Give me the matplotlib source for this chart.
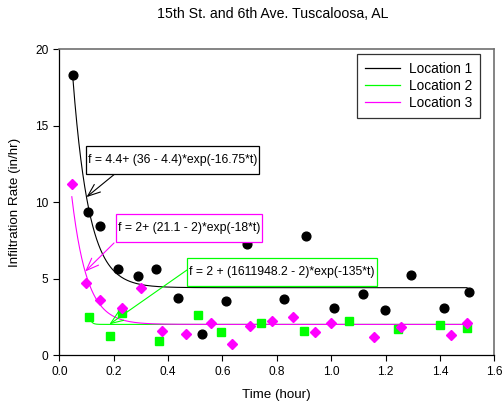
import numpy as np
import matplotlib
matplotlib.use("Agg")
import matplotlib.pyplot as plt
from matplotlib.lines import Line2D
from matplotlib.patches import Rectangle

plt.rcParams['font.family'] = ['Liberation Sans', 'DejaVu Sans']

# ---- data ----
t1 = [0.05, 0.105, 0.15, 0.215, 0.288, 0.356, 0.437, 0.525, 0.613, 0.69,
      0.826, 0.907, 1.009, 1.117, 1.199, 1.293, 1.416, 1.508]
y1 = [18.3, 9.35, 8.4, 5.65, 5.15, 5.6, 3.7, 1.4, 3.5, 7.25,
      3.65, 7.8, 3.1, 4.0, 2.96, 5.25, 3.05, 4.1]

t2 = [0.11, 0.186, 0.231, 0.367, 0.511, 0.594, 0.742, 0.899, 1.065, 1.245, 1.40, 1.50]
y2 = [2.46, 1.24, 2.72, 0.9, 2.6, 1.48, 2.1, 1.57, 2.2, 1.7, 1.96, 1.78]

t3 = [0.046, 0.097, 0.15, 0.231, 0.302, 0.379, 0.467, 0.557, 0.635, 0.70,
      0.782, 0.858, 0.941, 0.999, 1.158, 1.258, 1.44, 1.50]
y3 = [11.15, 4.7, 3.6, 3.1, 4.36, 1.6, 1.37, 2.1, 0.74, 1.9,
      2.24, 2.48, 1.48, 2.09, 1.16, 1.85, 1.33, 2.1]

# fit parameters: f = a + (b - a) * exp(-k * t)
fit1 = (4.4, 36.0, 16.75)
fit2 = (2.0, 1611948.2, 135.0)
fit3 = (2.0, 21.1, 18.0)

eq1 = "f = 4.4+ (36 - 4.4)*exp(-16.75*t)"
eq2 = "f = 2 + (1611948.2 - 2)*exp(-135*t)"
eq3 = "f = 2+ (21.1 - 2)*exp(-18*t)"

labels = ["Location 1", "Location 2", "Location 3"]
title = "15th St. and 6th Ave. Tuscaloosa, AL"
xlabel = "Time (hour)"
ylabel = "Infiltration Rate (in/hr)"

c1, c2, c3 = "black", "#00ff00", "#ff00ff"


def f(p, t):
    a, b, k = p
    return a + (b - a) * np.exp(-k * np.asarray(t))


W, H = 503, 411
fig = plt.figure(figsize=(W / 100, H / 100), dpi=100)
ax = fig.add_axes([59.3 / W, 1 - 355 / H, (494.3 - 59.3) / W, (355 - 49) / H])

# fit curves
tt1 = np.linspace(t1[0], 1.5, 400)
tt2 = np.linspace(t2[0], 1.5, 400)
tt3 = np.linspace(t3[0], 1.5, 400)
ax.plot(tt1, f(fit1, tt1), color=c1, lw=0.8, zorder=2)
ax.plot(tt2, f(fit2, tt2), color=c2, lw=0.8, zorder=2)
ax.plot(tt3, f(fit3, tt3), color=c3, lw=0.8, zorder=2)

# points
ax.plot(t1, y1, 'o', color=c1, ms=6.3, ls='none', zorder=3)
ax.plot(t2, y2, 's', color=c2, ms=5.2, ls='none', zorder=3)
ax.plot(t3, y3, 'D', color=c3, ms=5.0, ls='none', zorder=3)

ax.set_xlim(0, 1.6)
ax.set_ylim(0, 20)
ax.set_xticks(np.arange(0, 1.61, 0.2))
ax.set_xticklabels([f"{v:.1f}" for v in np.arange(0, 1.61, 0.2)])
ax.set_yticks([0, 5, 10, 15, 20])
ax.tick_params(direction='out', length=4, width=0.8, labelsize=8.6, pad=4,
               top=False, right=False)
for s in ['left', 'bottom']:
    ax.spines[s].set_color('black')
    ax.spines[s].set_linewidth(0.9)
for s in ['top', 'right']:
    ax.spines[s].set_color('#707070')
    ax.spines[s].set_linewidth(1.2)

ax.set_xlabel(xlabel, fontsize=9.6, labelpad=8)
ax.set_ylabel(ylabel, fontsize=9.6, labelpad=10)
fig.text(272.5 / W, 1 - 14 / H, title, ha='center', va='center', fontsize=10.2)

# legend
handles = [Line2D([], [], color=c1, lw=0.9),
           Line2D([], [], color=c2, lw=0.9),
           Line2D([], [], color=c3, lw=0.9)]
leg = ax.legend(handles, labels, loc='upper right',
                bbox_to_anchor=((480 - 59.3) / 435, (355 - 54) / 306),
                borderaxespad=0, fontsize=9.8, frameon=True, fancybox=False,
                edgecolor='black', handlelength=2.6, handletextpad=0.6,
                labelspacing=0.22, borderpad=0.6)
leg.get_frame().set_linewidth(0.9)


# equations with boxes and arrows
def px2data(px, py):
    return ((px - 59.3) / 435 * 1.6, (355 - py) / 306 * 20)

boxes = [
    (eq1, c1, 88, 159.5, (116, 173), fit1, 0.100),
    (eq3, c3, 118, 227.5, (114, 243), fit3, 0.095),
    (eq2, c2, 189, 272, (187, 270), fit2, 0.184),
]
texts = []
for txt, col, lx, cy, start, fit, ttip in boxes:
    x, y = px2data(lx, cy)
    tobj = ax.text(x, y, txt, fontsize=8.8, ha='left', va='center', zorder=5)
    texts.append((tobj, col))
    sx, sy = px2data(*start)
    ax.annotate('', xy=(ttip, float(f(fit, ttip))), xytext=(sx, sy),
                arrowprops=dict(arrowstyle='->,head_length=0.9,head_width=0.35',
                                color=col, lw=0.8, shrinkA=0, shrinkB=0),
                zorder=4)

fig.canvas.draw()
r = fig.canvas.get_renderer()
inv = fig.transFigure.inverted()
for tobj, col in texts:
    bb = tobj.get_window_extent(r)
    x0, x1 = bb.x0 - 2, bb.x1 + 2
    yc = (bb.y0 + bb.y1) / 2
    h = 28
    (fx0, fy0), (fx1, fy1) = inv.transform([(x0, yc - h / 2), (x1, yc + h / 2)])
    fig.patches.append(Rectangle((fx0, fy0), fx1 - fx0, fy1 - fy0,
                                 transform=fig.transFigure, facecolor='white',
                                 edgecolor=col, lw=0.9, zorder=4.5))

for tobj, col in texts:
    tobj.remove()
    fig.text(*inv.transform(ax.transData.transform(tobj.get_position())),
             tobj.get_text(), fontsize=8.8, ha='left', va='center', zorder=7)

fig.savefig("out.png", dpi=100)
